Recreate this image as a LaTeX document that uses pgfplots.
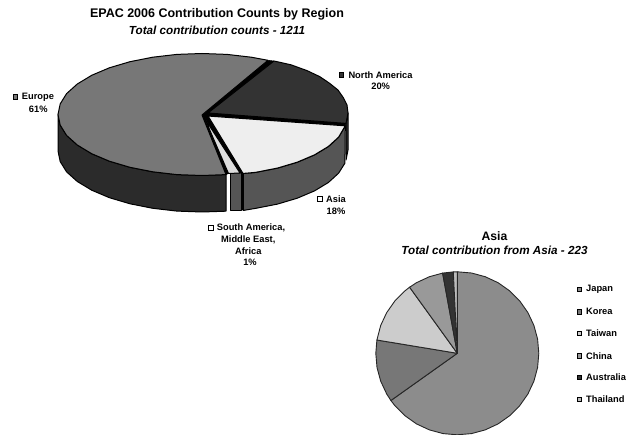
\documentclass[border=0pt]{standalone}
\usepackage{pgfplots}
\pgfplotsset{compat=1.18}
\usepackage{fontspec}
\setmainfont{Liberation Sans}
\definecolor{cEur}{HTML}{777777}
\definecolor{cNA}{HTML}{333333}
\definecolor{cAsiaT}{HTML}{EEEEEE}
\definecolor{cAsiaS}{HTML}{555555}
\definecolor{cSA}{HTML}{DDDDDD}
\definecolor{cJapan}{HTML}{8C8C8C}
\definecolor{cKorea}{HTML}{777777}
\definecolor{cTaiwan}{HTML}{CCCCCC}
\definecolor{cChina}{HTML}{999999}
\definecolor{cAus}{HTML}{333333}
\definecolor{cThai}{HTML}{BBBBBB}
\newcommand{\lab}[1]{\fontsize{9.3}{11}\selectfont\bfseries #1}
\pgfplotsset{key/.style={only marks,mark=square*,mark size=2.2pt,mark options={fill=#1,draw=black,line width=0.7pt,line join=miter}}}
\begin{document}
\begin{tikzpicture}
\useasboundingbox (0,0) rectangle (637pt,435pt);
\begin{axis}[at={(0,0)},anchor=south west,scale only axis,width=637pt,height=435pt,xmin=0,xmax=637,ymin=0,ymax=435,y dir=reverse,hide axis,clip=false,
 every axis plot/.append style={sharp plot,line join=round}]
% main pie: sides
\addplot[no markers,fill=cNA!85!black,draw=black,line width=1pt] coordinates {(58,114.5)(60.2,125.1)(66.6,135.4)(77.3,145)(91.7,153.7)(109.4,161.2)(130,167.3)(152.8,171.8)(176.9,174.6)(202,175.5)(226,174.6)(226,211.2)(202,212)(176.9,211.1)(152.8,208.3)(130,203.8)(109.4,197.7)(91.7,190.2)(77.3,181.5)(66.6,171.9)(60.2,161.6)(58,151)} --cycle;
\addplot[no markers,fill=cNA,draw=black,line width=1pt] coordinates {(348,113)(348,150)(346,160)(346,123.4)} --cycle;
\addplot[no markers,fill=cAsiaS,draw=black,line width=1pt] coordinates {(345.3,125.8)(338.6,137.2)(328.4,146.5)(314.5,154.9)(297.3,162.2)(277.5,168.1)(255.5,172.4)(243,173.5)(243,210.5)(255.5,208.4)(277.5,204.1)(297.3,198.2)(314.5,190.9)(328.4,182.5)(338.6,173.2)(344.9,163.2)} --cycle;
\addplot[no markers,fill=cAsiaS,draw=black,line width=1pt] coordinates {(230,173)(241,173)(241,210.5)(230,210.5)} --cycle;
\addplot[no markers,draw=black,line width=2pt] coordinates {(242.5,173)(242.5,210.5)};
% black gaps between the exploded slices
\addplot[no markers,fill=black,draw=black,line width=0.5pt] coordinates {(202,115)(268,60.3)(274,61)(208,113)(346,123.4)(345.3,125.8)(243,173.5)(240,173)(228.5,173.5)(226,174.6)} --cycle;
% main pie: top faces
\addplot[no markers,fill=cEur,draw=black,line width=1pt] coordinates {(202,115)(268,60.3)(251.2,57.2)(227.1,54.4)(202,53.5)(176.9,54.4)(152.8,57.2)(130,61.7)(109.4,67.8)(91.7,75.3)(77.3,84)(66.6,93.6)(60.2,103.9)(58,114.5)(60.2,125.1)(66.6,135.4)(77.3,145)(91.7,153.7)(109.4,161.2)(130,167.3)(152.8,171.8)(176.9,174.6)(202,175.5)(226,174.6)} --cycle;
\addplot[no markers,fill=cNA,draw=black,line width=1pt] coordinates {(208,113)(274,61)(291,64.8)(307,70.6)(319.5,76.5)(329.2,83)(338,90)(343.2,97.5)(347,105)(348,113)(346,123.4)} --cycle;
\addplot[no markers,fill=cAsiaT,draw=black,line width=1.1pt] coordinates {(208,116)(345.3,125.8)(338.6,137.2)(328.4,146.5)(314.5,154.9)(297.3,162.2)(277.5,168.1)(255.5,172.4)(243,173.5)} --cycle;
\addplot[no markers,fill=cSA,draw=black,line width=1pt] coordinates {(205,119)(240,173)(228.5,173.5)} --cycle;
% Asia pie (223 contributions)
\addplot[no markers,fill=cJapan,draw=black!85,line width=0.9pt] coordinates {(457.3,353.3)(457.3,271.8)(471.5,273)(485.2,276.7)(498.1,282.7)(509.7,290.9)(519.7,300.9)(527.9,312.6)(533.9,325.4)(537.6,339.1)(538.8,353.3)(537.6,367.5)(533.9,381.2)(527.9,394)(519.7,405.7)(509.7,415.7)(498.1,423.9)(485.2,429.9)(471.5,433.6)(457.3,434.8)(443.1,433.6)(429.4,429.9)(416.5,423.9)(404.9,415.7)(394.9,405.7)(390.9,400.5)} --cycle;
\addplot[no markers,fill=cKorea,draw=black!85,line width=0.9pt] coordinates {(457.3,353.3)(390.9,400.5)(386.7,394)(380.7,381.2)(377,367.5)(375.8,353.3)(376.9,340)} --cycle;
\addplot[no markers,fill=cTaiwan,draw=black!85,line width=0.9pt] coordinates {(457.3,353.3)(376.9,340)(380.7,325.4)(386.7,312.6)(394.9,300.9)(404.9,290.9)(409.6,287.2)} --cycle;
\addplot[no markers,fill=cChina,draw=black!85,line width=0.9pt] coordinates {(457.3,353.3)(409.6,287.2)(416.5,282.7)(429.4,276.7)(442.6,273.1)} --cycle;
\addplot[no markers,fill=cAus,draw=black!85,line width=0.9pt] coordinates {(457.3,353.3)(442.6,273.1)(453.3,271.9)} --cycle;
\addplot[no markers,fill=cThai,draw=black!85,line width=0.9pt] coordinates {(457.3,353.3)(453.3,271.9)(457.3,271.8)} --cycle;
% legend keys
\addplot[key=cEur] coordinates {(15.3,97)};
\addplot[key=cNA] coordinates {(341.3,75)};
\addplot[key=white] coordinates {(320,199)(210.7,227.7)};
\addplot[key=cJapan] coordinates {(579.3,289.3)};
\addplot[key=cKorea] coordinates {(579.3,311.7)};
\addplot[key=cTaiwan] coordinates {(579.3,333.3)};
\addplot[key=cChina] coordinates {(579.3,355.7)};
\addplot[key=cAus] coordinates {(579.3,377.3)};
\addplot[key=cThai] coordinates {(579.3,399.3)};
% texts
\node[inner sep=0pt] at (axis cs:217,14.7) {\fontsize{12.5}{14}\selectfont\bfseries EPAC 2006 Contribution Counts by Region};
\node[inner sep=0pt] at (axis cs:217,30.7) {\fontsize{11.7}{14}\selectfont\bfseries\itshape Total contribution counts - 1211};
\node[inner sep=0pt] at (axis cs:494.5,236) {\fontsize{12.2}{14}\selectfont\bfseries Asia};
\node[inner sep=0pt] at (axis cs:494.5,250) {\fontsize{11.7}{14}\selectfont\bfseries\itshape Total contribution from Asia - 223};
\node[inner sep=0pt,anchor=west] at (axis cs:348.3,75) {\lab{North America}};
\node[inner sep=0pt] at (axis cs:380.7,86) {\lab{20\%}};
\node[inner sep=0pt,anchor=west] at (axis cs:21.7,97) {\lab{Europe}};
\node[inner sep=0pt] at (axis cs:38.3,109) {\lab{61\%}};
\node[inner sep=0pt,anchor=west] at (axis cs:326,199) {\lab{Asia}};
\node[inner sep=0pt] at (axis cs:336,211) {\lab{18\%}};
\node[inner sep=0pt,anchor=west] at (axis cs:216.7,228) {\lab{South America,}};
\node[inner sep=0pt] at (axis cs:248.3,240) {\lab{Middle East,}};
\node[inner sep=0pt] at (axis cs:248.3,251) {\lab{Africa}};
\node[inner sep=0pt] at (axis cs:250,262) {\lab{1\%}};
\node[inner sep=0pt,anchor=west] at (axis cs:586,289.3) {\lab{Japan}};
\node[inner sep=0pt,anchor=west] at (axis cs:586,311.7) {\lab{Korea}};
\node[inner sep=0pt,anchor=west] at (axis cs:586,333.3) {\lab{Taiwan}};
\node[inner sep=0pt,anchor=west] at (axis cs:586,355.7) {\lab{China}};
\node[inner sep=0pt,anchor=west] at (axis cs:586,377.3) {\lab{Australia}};
\node[inner sep=0pt,anchor=west] at (axis cs:586,399.3) {\lab{Thailand}};
\end{axis}
\end{tikzpicture}
\end{document}
